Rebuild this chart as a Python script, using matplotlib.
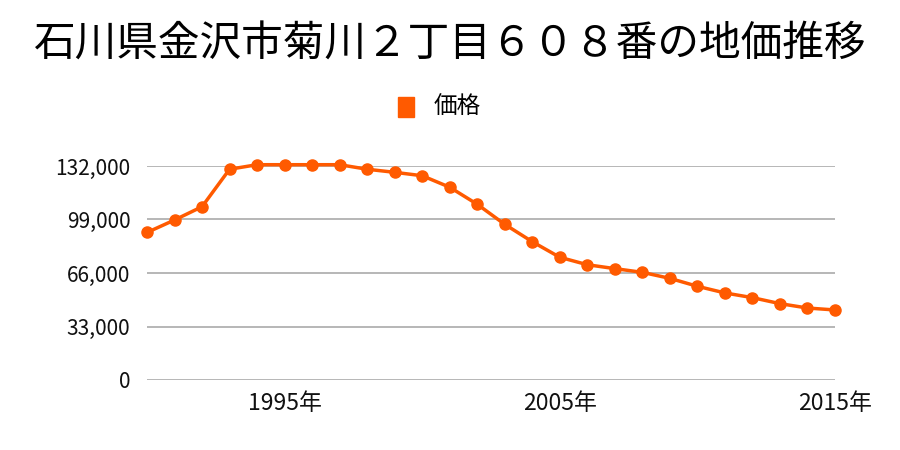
import matplotlib
matplotlib.use("Agg")
import matplotlib.pyplot as plt

plt.rcParams['font.family'] = ['Noto Sans CJK JP', 'DejaVu Sans']

title = "石川県金沢市菊川２丁目６０８番の地価推移"
series_name = "価格"
years = list(range(1990, 2016))
prices = [91000, 98700, 106900, 130000, 132800, 132800, 132800, 132800,
          130000, 128100, 126000, 118900, 108400, 96000, 85300, 75700,
          71100, 68700, 66400, 62700, 57800, 53700, 50800, 47100, 44400, 43200]
y_ticks = [0, 33000, 66000, 99000, 132000]
x_ticks = [1995, 2005, 2015]

color = "#ff5a00"

fig = plt.figure(figsize=(9, 4.5), dpi=100)
ax = fig.add_axes([147/900, 70/450, (835-147)/900, (380-166)/450])

ax.plot(years, prices, color=color, lw=2.5, marker="o", ms=8, clip_on=False,
        label=series_name, zorder=3)

ax.set_xlim(1990, 2015)
ax.set_ylim(0, 132000)
ax.set_yticks(y_ticks)
ax.set_yticklabels([f"{v:,}" for v in y_ticks])
ax.set_xticks(x_ticks)
ax.set_xticklabels([f"{y}年" for y in x_ticks])
ax.grid(axis="y", color="#aaaaaa", lw=1.2)
ax.set_axisbelow(True)
for s in ax.spines.values():
    s.set_visible(False)
ax.tick_params(length=0, labelsize=15, colors="#111111")
ax.tick_params(axis="x", labelsize=16.5, pad=9)
ax.tick_params(axis="y", pad=12)

fig.text(0.5, 1-45/450, title, ha="center", va="center", fontsize=30)

# legend
fig.patches.append(plt.Rectangle((398/900, 1-117/450), 16/900, 20/450,
                                 transform=fig.transFigure, color=color))
fig.text(434/900, 1-107/450, series_name, ha="left", va="center", fontsize=17)

fig.savefig("out.png")
